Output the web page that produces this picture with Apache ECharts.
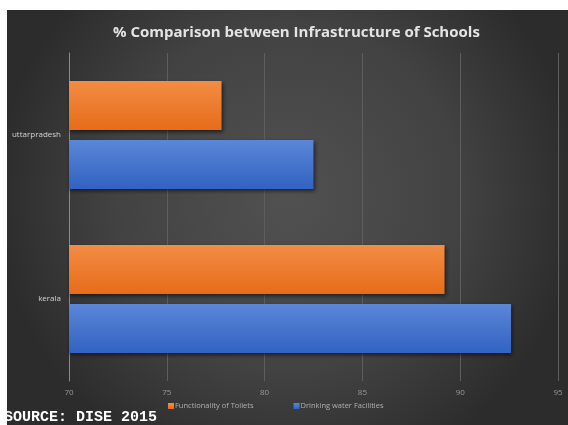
<!DOCTYPE html>
<html><head><meta charset="utf-8">
<style>html,body{margin:0;padding:0;background:#fff}#c{width:568px;height:425px}</style>
<script src="https://cdn.jsdelivr.net/npm/echarts@6/dist/echarts.min.js"></script>
</head><body><div id="c"></div>
<script>
const categories = ['uttarpradesh', 'kerala'];
const toilets = [77.8, 89.2];
const water = [82.5, 92.6];
const seriesNames = ['Functionality of Toilets', 'Drinking water Facilities'];
const xTicks = [70, 75, 80, 85, 90, 95];

const chart = echarts.init(document.getElementById('c'));
const grad = (a, b) => new echarts.graphic.LinearGradient(0, 0, 0, 1, [{offset: 0, color: a}, {offset: 1, color: b}]);
chart.setOption({
  backgroundColor: '#ffffff',
  animation: false,
  graphic: [{
    type: 'rect', z: -100, silent: true,
    shape: {x: 7, y: 10, width: 561, height: 415},
    style: {fill: new echarts.graphic.RadialGradient(0.5, 0.45, 0.7, [
      {offset: 0, color: '#515151'}, {offset: 0.6, color: '#424242'}, {offset: 1, color: '#2c2c2c'}])}
  }, {
    type: 'text', left: 4, top: 410, z: 100,
    style: {text: 'SOURCE: DISE 2015', fill: '#ffffff', font: 'bold 15px "Liberation Mono", monospace'}
  }],
  title: {
    text: '% Comparison between Infrastructure of Schools',
    left: 108, top: 20,
    textStyle: {color: '#e4e4e4', fontSize: 15, fontWeight: 'bold', fontFamily: 'Open Sans'}
  },
  legend: {
    data: seriesNames, left: 163, top: 397, itemWidth: 6, itemHeight: 6, itemGap: 40,
    icon: 'rect',
    textStyle: {color: '#b0b0b0', fontSize: 7.5, fontFamily: 'Open Sans', padding: [0, 0, 0, -4]}
  },
  grid: {left: 69, right: 10, top: 53, bottom: 44, containLabel: false},
  xAxis: {
    type: 'value', min: 70, max: 95, interval: 5, position: 'bottom',
    axisLine: {show: false}, axisTick: {show: false},
    axisLabel: {color: '#9a9a9a', fontSize: 8, margin: 8, fontFamily: 'Open Sans',
      formatter: v => xTicks.includes(v) ? String(v) : ''},
    splitLine: {lineStyle: {color: '#5e5e5e', width: 1}}
  },
  yAxis: {
    type: 'category', data: categories, inverse: true,
    axisLine: {show: true, lineStyle: {color: '#8a8a8a', width: 1}},
    axisTick: {show: false},
    axisLabel: {color: '#d4d4d4', fontSize: 8, margin: 8, fontFamily: 'Open Sans'}
  },
  series: [{
    name: seriesNames[0], type: 'bar', data: toilets,
    barGap: '20%', barCategoryGap: '34%',
    itemStyle: {color: grad('#f48c44', '#e56d1a'), shadowBlur: 4, shadowColor: 'rgba(0,0,0,0.6)', shadowOffsetY: 2, shadowOffsetX: 1}
  }, {
    name: seriesNames[1], type: 'bar', data: water,
    barGap: '20%', barCategoryGap: '34%',
    itemStyle: {color: grad('#5b87d8', '#3262c2'), shadowBlur: 4, shadowColor: 'rgba(0,0,0,0.6)', shadowOffsetY: 2, shadowOffsetX: 1}
  }]
});
</script></body></html>
